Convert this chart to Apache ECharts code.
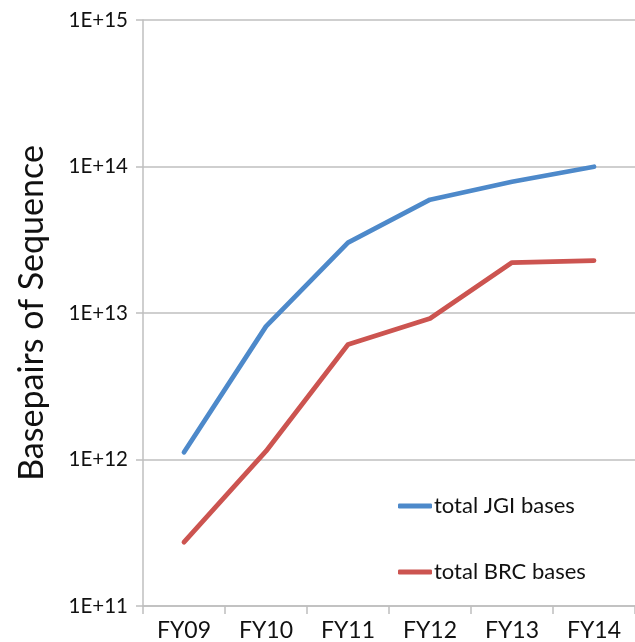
<!DOCTYPE html>
<html>
<head>
<meta charset="utf-8">
<script src="https://cdn.jsdelivr.net/npm/echarts@6/dist/echarts.min.js"></script>
<style>
  html, body { margin: 0; padding: 0; background: #fff; }
  #chart { width: 635px; height: 642px; }
</style>
</head>
<body>
<div id="chart"></div>
<script>
// Fiscal years on the category axis
const years = ['FY09', 'FY10', 'FY11', 'FY12', 'FY13', 'FY14'];
// Cumulative base pairs sequenced
const jgiBases = [1.12e12, 8.1e12, 3.02e13, 5.93e13, 7.87e13, 9.96e13];
const brcBases = [2.73e11, 1.14e12, 6.1e12, 9.18e12, 2.21e13, 2.28e13];
// Log-scale range for the value axis
const yMin = 1e11;
const yMax = 1e15;

const font = 'Lato, "Open Sans", sans-serif';
const gridGrey = '#bfbfbf';
const textColor = '#111';

const chart = echarts.init(document.getElementById('chart'));
chart.setOption({
  animation: false,
  backgroundColor: '#fff',
  grid: { left: 143, top: 20, right: -9, bottom: 35, containLabel: false },
  legend: {
    orient: 'vertical',
    left: 393,
    top: 490,
    itemWidth: 34,
    itemHeight: 5,
    itemGap: 44,
    icon: 'roundRect',
    textStyle: { fontFamily: font, fontSize: 22, color: textColor, padding: [0, 0, 0, -3] },
    data: ['total JGI bases', 'total BRC bases']
  },
  xAxis: {
    type: 'category',
    data: years,
    boundaryGap: true,
    axisLine: { lineStyle: { color: gridGrey, width: 1.5 } },
    axisTick: { show: true, length: 8, lineStyle: { color: gridGrey, width: 1.5 } },
    axisLabel: { fontFamily: font, fontSize: 23, color: textColor, margin: 13 }
  },
  yAxis: {
    type: 'log',
    logBase: 10,
    min: yMin,
    max: yMax,
    name: 'Basepairs of Sequence',
    nameLocation: 'middle',
    nameRotate: 90,
    nameGap: 94,
    nameTextStyle: { fontFamily: font, fontSize: 34, color: textColor },
    axisLine: { show: true, lineStyle: { color: gridGrey, width: 1.5 } },
    axisTick: { show: true, length: 7, lineStyle: { color: gridGrey, width: 1.5 } },
    splitLine: { show: true, lineStyle: { color: gridGrey, width: 1.5 } },
    axisLabel: {
      fontFamily: font, fontSize: 20.5, color: textColor, margin: 15,
      formatter: v => '1E+' + Math.round(Math.log10(v))
    }
  },
  series: [
    {
      name: 'total JGI bases',
      type: 'line',
      data: jgiBases,
      showSymbol: false,
      color: '#4d89ca',
      lineStyle: { width: 4.8, color: '#4d89ca', cap: 'round', join: 'round' }
    },
    {
      name: 'total BRC bases',
      type: 'line',
      data: brcBases,
      showSymbol: false,
      color: '#cc5450',
      lineStyle: { width: 4.8, color: '#cc5450', cap: 'round', join: 'round' }
    }
  ]
});
</script>
</body>
</html>
